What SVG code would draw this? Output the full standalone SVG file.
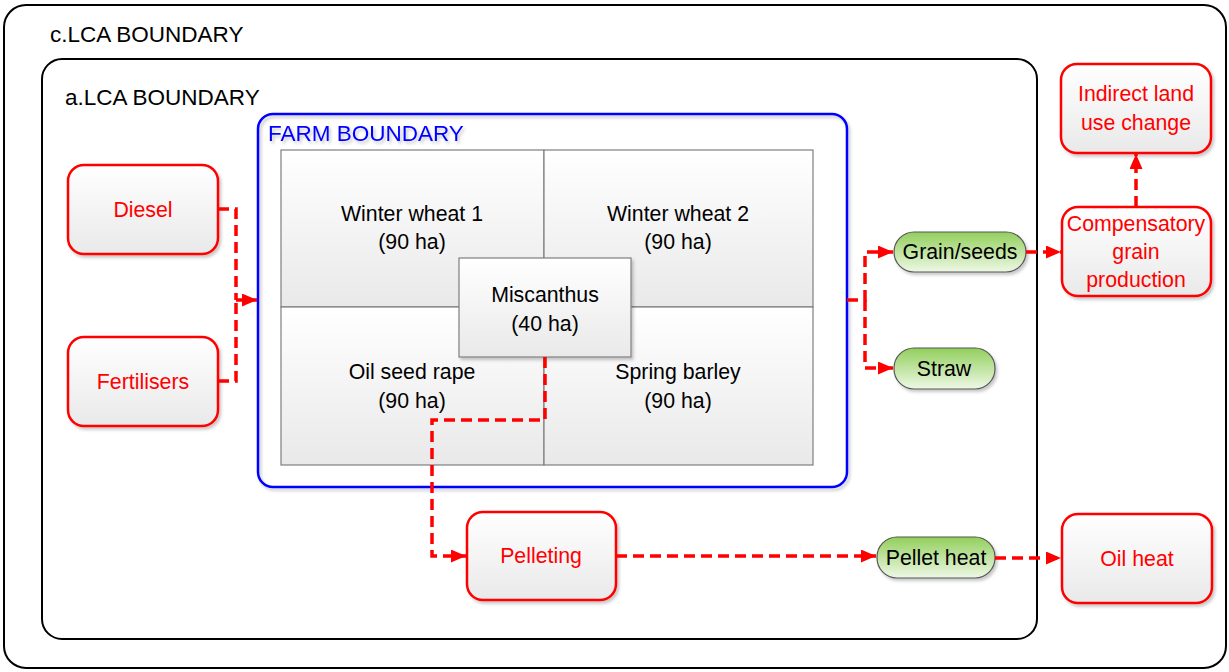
<svg xmlns="http://www.w3.org/2000/svg" width="1229" height="672" viewBox="0 0 1229 672">
  <style>
    text { font-family: "Liberation Sans", Arial, sans-serif; }
    .bound { fill: none; stroke: #000; stroke-width: 2; }
    .btitle { font-size: 22.5px; fill: #000; }
    .cell { fill: url(#grey); stroke: #7f7f7f; stroke-width: 1.2; }
    .lbl { font-size: 21.3px; fill: #000; text-anchor: middle; }
    .rbox { fill: url(#grey); stroke: #ff0000; stroke-width: 2.5; filter: url(#shadow); }
    .rtxt { font-size: 21.3px; fill: #ff0000; text-anchor: middle; }
    .pill { fill: url(#green); stroke: #555; stroke-width: 1.2; filter: url(#shadow); }
    .flow { fill: none; stroke: #ff0000; stroke-width: 3.5; stroke-dasharray: 11 6; }
  </style>
  <defs>
    <linearGradient id="grey" x1="0" y1="0" x2="0" y2="1">
      <stop offset="0" stop-color="#ffffff"/>
      <stop offset="1" stop-color="#e9e9e9"/>
    </linearGradient>
    <linearGradient id="green" x1="0" y1="0" x2="0" y2="1">
      <stop offset="0" stop-color="#92cf5c"/>
      <stop offset="1" stop-color="#eef8e6"/>
    </linearGradient>
    <filter id="shadow" x="-10%" y="-10%" width="125%" height="130%">
      <feDropShadow dx="2" dy="2.5" stdDeviation="1.5" flood-color="#000" flood-opacity="0.22"/>
    </filter>
    <marker id="arrow" markerUnits="userSpaceOnUse" markerWidth="15" markerHeight="13" refX="15" refY="6.5" orient="auto">
      <path d="M0,0 L15,6.5 L0,13 Z" fill="#ff0000"/>
    </marker>
  </defs>

  <rect width="1229" height="672" fill="#ffffff"/>

  <!-- system boundaries -->
  <g id="c-lca-boundary">
    <rect class="bound" x="4" y="5" width="1222" height="663" rx="22"/>
    <text class="btitle" x="50" y="42">c.LCA BOUNDARY</text>
  </g>
  <g id="a-lca-boundary">
    <rect class="bound" x="42" y="59" width="995" height="580" rx="20"/>
    <text class="btitle" x="65" y="105">a.LCA BOUNDARY</text>
  </g>
  <g id="farm-boundary">
    <rect x="258" y="114" width="589" height="373" rx="15" fill="none" stroke="#0000ff" stroke-width="2.5" filter="url(#shadow)"/>
    <text class="btitle" x="268" y="141" style="fill:#0000ff" filter="url(#shadow)">FARM BOUNDARY</text>
  </g>

  <!-- field plots -->
  <g id="winter-wheat-1">
    <rect class="cell" x="281" y="150" width="263" height="157"/>
    <text class="lbl" x="412" y="221">Winter wheat 1</text>
    <text class="lbl" x="412" y="249">(90 ha)</text>
  </g>
  <g id="winter-wheat-2">
    <rect class="cell" x="544" y="150" width="269" height="157"/>
    <text class="lbl" x="678" y="221">Winter wheat 2</text>
    <text class="lbl" x="678" y="249">(90 ha)</text>
  </g>
  <g id="oil-seed-rape">
    <rect class="cell" x="281" y="307" width="263" height="158"/>
    <text class="lbl" x="412" y="379">Oil seed rape</text>
    <text class="lbl" x="412" y="408">(90 ha)</text>
  </g>
  <g id="spring-barley">
    <rect class="cell" x="544" y="307" width="269" height="158"/>
    <text class="lbl" x="678" y="379">Spring barley</text>
    <text class="lbl" x="678" y="408">(90 ha)</text>
  </g>
  <g id="miscanthus">
    <rect class="cell" x="459" y="258" width="172" height="99" filter="url(#shadow)"/>
    <text class="lbl" x="545" y="302">Miscanthus</text>
    <text class="lbl" x="545" y="331">(40 ha)</text>
  </g>

  <!-- inputs -->
  <g id="diesel">
    <rect class="rbox" x="68" y="165" width="150" height="89" rx="16"/>
    <text class="rtxt" x="143" y="217">Diesel</text>
  </g>
  <g id="fertilisers">
    <rect class="rbox" x="68" y="337" width="150" height="89" rx="16"/>
    <text class="rtxt" x="143" y="389">Fertilisers</text>
  </g>

  <!-- products -->
  <g id="grain-seeds">
    <rect class="pill" x="894" y="232" width="132" height="40" rx="20"/>
    <text class="lbl" x="960" y="259">Grain/seeds</text>
  </g>
  <g id="straw">
    <rect class="pill" x="894" y="348" width="101" height="41" rx="20"/>
    <text class="lbl" x="944" y="376">Straw</text>
  </g>
  <g id="pellet-heat">
    <rect class="pill" x="877" y="537" width="118" height="41" rx="20"/>
    <text class="lbl" x="936" y="565">Pellet heat</text>
  </g>

  <!-- processing and displaced systems -->
  <g id="pelleting">
    <rect class="rbox" x="467" y="512" width="149" height="88" rx="16"/>
    <text class="rtxt" x="541" y="563">Pelleting</text>
  </g>
  <g id="compensatory-grain">
    <rect class="rbox" x="1062" y="207" width="149" height="89" rx="16"/>
    <text class="rtxt" x="1136" y="231">Compensatory</text>
    <text class="rtxt" x="1136" y="259">grain</text>
    <text class="rtxt" x="1136" y="287">production</text>
  </g>
  <g id="indirect-land-use-change">
    <rect class="rbox" x="1061" y="64" width="150" height="89" rx="16"/>
    <text class="rtxt" x="1136" y="101">Indirect land</text>
    <text class="rtxt" x="1136" y="130">use change</text>
  </g>
  <g id="oil-heat">
    <rect class="rbox" x="1062" y="514" width="150" height="89" rx="16"/>
    <text class="rtxt" x="1137" y="566">Oil heat</text>
  </g>

  <!-- material and energy flows -->
  <g id="connectors">
    <path class="flow" d="M218,209 H236 V300"/>
    <path class="flow" d="M218,381 H236 V300"/>
    <path class="flow" d="M236,300 H257" marker-end="url(#arrow)"/>
    <path class="flow" d="M847,300 H865 V252 H893" marker-end="url(#arrow)"/>
    <path class="flow" d="M865,300 V368 H893" marker-end="url(#arrow)"/>
    <path class="flow" d="M1026,252 H1061" marker-end="url(#arrow)"/>
    <path class="flow" d="M1136,207 V154" marker-end="url(#arrow)"/>
    <path class="flow" d="M545,357 V420 H432 V556 H466" marker-end="url(#arrow)"/>
    <path class="flow" d="M616,556 H876" marker-end="url(#arrow)"/>
    <path class="flow" d="M995,558 H1061" marker-end="url(#arrow)"/>
  </g>
</svg>
